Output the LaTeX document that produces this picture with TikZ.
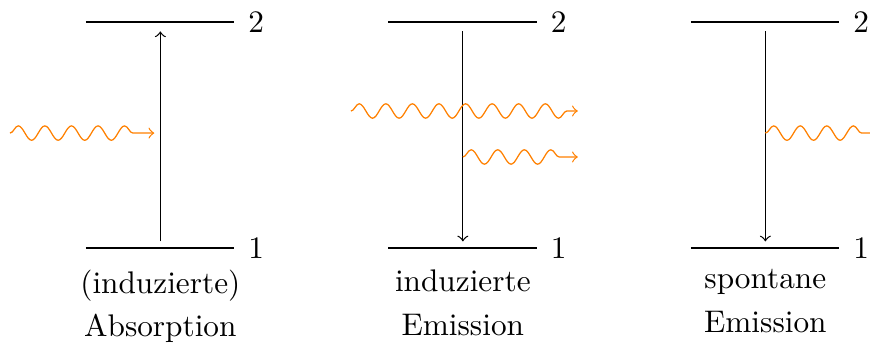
\documentclass[tikz,border=0pt]{standalone}
\usetikzlibrary{decorations.pathmorphing}

\tikzset{
  photon/.style={orange, ->, decorate,
    decoration={snake, amplitude=2.3pt, segment length=8.5pt, post length=1mm}},
  level/.style={thin},
  label/.style={below, align=center}
}

\begin{document}
\begin{tikzpicture}[scale=0.34]
    \useasboundingbox (0,0) rectangle (28.76,11.31);

    % absorption
    \coordinate (a1l) at (2.84,3.11);
    \coordinate (a1r) at (7.74,3.11);
    \coordinate (a2l) at (2.84,10.58);
    \coordinate (a2r) at (7.74,10.58);
    \draw [level] (a1l) -- (a1r) node[right, xshift=1pt] (na1) {1};
    \draw [level] (a2l) -- (a2r) node[right, xshift=1pt] (na2) {2};
    \coordinate (alo) at (5.3,3.33);
    \coordinate (ahi) at (5.3,10.27);
    \draw [->] (alo) -- (ahi);
    \coordinate (ain) at (0.33,6.91);
    \coordinate (aout) at (5.1,6.91);
    \draw [photon] (ain) -- (aout);
    \node [label] (atxt) at (5.3,2.76) {(induzierte)\\[2pt]Absorption};

    % induced emission
    \coordinate (i1l) at (12.84,3.11);
    \coordinate (i1r) at (17.74,3.11);
    \coordinate (i2l) at (12.84,10.58);
    \coordinate (i2r) at (17.74,10.58);
    \draw [level] (i1l) -- (i1r) node[right, xshift=1pt] (ni1) {1};
    \draw [level] (i2l) -- (i2r) node[right, xshift=1pt] (ni2) {2};
    \coordinate (ihi) at (15.3,10.27);
    \coordinate (ilo) at (15.3,3.33);
    \draw [->] (ihi) -- (ilo);
    \coordinate (iin) at (11.6,7.64);
    \coordinate (iout) at (19.1,7.64);
    \draw [photon] (iin) -- (iout);
    \coordinate (inew) at (15.3,6.12);
    \coordinate (inewout) at (19.1,6.12);
    \draw [photon] (inew) -- (inewout);
    \node [label] (itxt) at (15.3,2.76) {induzierte\\[2pt]Emission};

    % spontaneous emission
    \coordinate (s1l) at (22.84,3.11);
    \coordinate (s1r) at (27.74,3.11);
    \coordinate (s2l) at (22.84,10.58);
    \coordinate (s2r) at (27.74,10.58);
    \draw [level] (s1l) -- (s1r) node[right, xshift=1pt] (ns1) {1};
    \draw [level] (s2l) -- (s2r) node[right, xshift=1pt] (ns2) {2};
    \coordinate (shi) at (25.3,10.27);
    \coordinate (slo) at (25.3,3.33);
    \draw [->] (shi) -- (slo);
    \coordinate (snew) at (25.3,6.91);
    \coordinate (snewout) at (29.1,6.91);
    \draw [photon] (snew) -- (snewout);
    \node [label] (stxt) at (25.3,2.76) {spontane\\[2pt]Emission};
\end{tikzpicture}
\end{document}
